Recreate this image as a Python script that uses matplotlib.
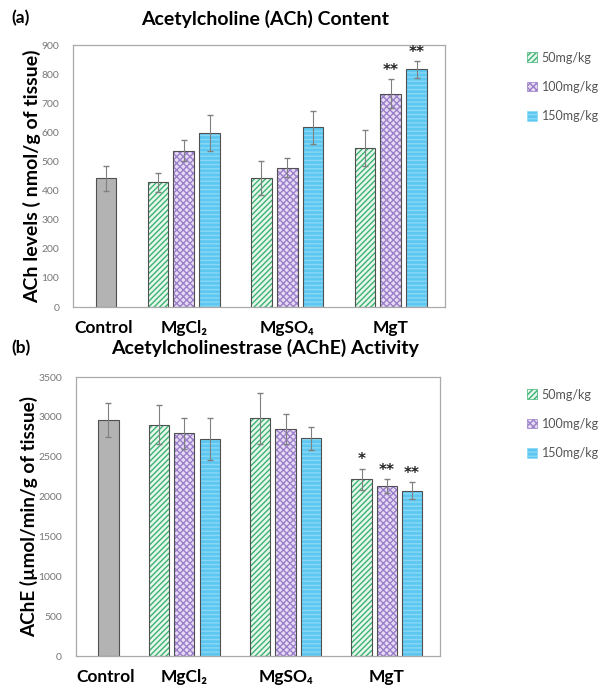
import numpy as np
import matplotlib
matplotlib.use("Agg")
import matplotlib.pyplot as plt
from matplotlib.patches import Patch

plt.rcParams['font.family'] = ['Lato', 'DejaVu Sans']

# data
groups = ["Control", "MgCl₂", "MgSO₄", "MgT"]
doses = ["50mg/kg", "100mg/kg", "150mg/kg"]

ach_control, ach_control_err = 442, 42
ach_vals = [[428, 444, 547],      # 50mg/kg  (MgCl2, MgSO4, MgT)
            [537, 479, 733],      # 100mg/kg
            [597, 617, 816]]      # 150mg/kg
ach_errs = [[33, 58, 61],
            [37, 34, 50],
            [61, 57, 29]]
ach_stars = [["", "", ""], ["", "", "**"], ["", "", "**"]]

ache_control, ache_control_err = 2958, 215
ache_vals = [[2902, 2982, 2217],
             [2794, 2848, 2133],
             [2723, 2731, 2074]]
ache_errs = [[245, 320, 130],
             [195, 190, 85],
             [267, 146, 105]]
ache_stars = [["", "", "*"], ["", "", "**"], ["", "", "**"]]

# styling per dose: face, hatch colour, hatch
styles = [("#e8f7ee", "#3cb371", "//////"),
          ("#e6dbf5", "#9b7fc9", "xxxxx"),
          ("#5cc8f2", "#8ad8f5", "----")]
edge = "#505050"
err_col = "#808080"


def draw_panel(ax, ctrl, ctrl_err, vals, errs, stars, ymax, ystep, star_off, leg_y):
    ax.bar(0, ctrl, width=0.8, color="#b3b3b3", edgecolor=edge, linewidth=0.8, zorder=2)
    ax.errorbar(0, ctrl, yerr=ctrl_err, fmt="none", ecolor=err_col, elinewidth=0.8, capsize=2, zorder=3)
    for d in range(3):
        xs = np.array([2, 6, 10]) + d
        face, hcol, hatch = styles[d]
        ax.bar(xs, vals[d], width=0.8, color=face, edgecolor=hcol, hatch=hatch, linewidth=0, zorder=2)
        ax.bar(xs, vals[d], width=0.8, color="none", edgecolor=edge, linewidth=0.8, zorder=2)
        ax.errorbar(xs, vals[d], yerr=errs[d], fmt="none", ecolor=err_col, elinewidth=0.8, capsize=2, zorder=3)
        for x, v, e, s in zip(xs, vals[d], errs[d], stars[d]):
            if s:
                ax.text(x, v + e + star_off, s, ha="center", va="bottom", family="DejaVu Sans",
                        fontsize=11, fontweight="bold", color="#222222")
    ax.set_xlim(-1.28, 13.1)
    ax.set_ylim(0, ymax)
    ax.set_yticks(np.arange(0, ymax + 1, ystep))
    ax.set_xticks([-0.1, 3, 7, 11])
    ax.set_xticklabels(groups, fontsize=12.5, fontweight="bold")
    ax.tick_params(axis="x", length=0, pad=9)
    ax.tick_params(axis="y", length=0, labelsize=7.5, labelcolor="#777777", pad=10)
    for sp in ax.spines.values():
        sp.set_color("#aaaaaa")
        sp.set_linewidth(0.9)
    handles = [Patch(facecolor=styles[d][0], edgecolor=styles[d][1], hatch=styles[d][2], linewidth=0.5)
               for d in range(3)]
    ax.legend(handles, doses, loc="upper left", bbox_to_anchor=(0.855, leg_y),
              bbox_transform=fig.transFigure, frameon=False,
              fontsize=9, labelcolor="#555555", handlelength=0.8, handleheight=0.8,
              handletextpad=0.4, labelspacing=1.38, borderaxespad=0)


fig = plt.figure(figsize=(6.1, 6.85), dpi=100)
ax1 = fig.add_axes([0.1197, 0.5518, 0.610, 0.3825])
ax2 = fig.add_axes([0.1246, 0.0423, 0.5967, 0.4073])

draw_panel(ax1, ach_control, ach_control_err, ach_vals, ach_errs, ach_stars, 900, 100, 5, 0.932)
draw_panel(ax2, ache_control, ache_control_err, ache_vals, ache_errs, ache_stars, 3500, 500, 20, 0.44)

ax1.set_ylabel("ACh levels ( nmol/g of tissue)", fontsize=14, fontweight="bold", labelpad=0)
ax2.set_ylabel("AChE (µmol/min/g of tissue)", fontsize=13.6, fontweight="bold", labelpad=0)

fig.text(0.435, 0.973, "Acetylcholine (ACh) Content", ha="center", va="center",
         fontsize=14, fontweight="bold")
fig.text(0.435, 0.492, "Acetylcholinestrase (AChE) Activity", ha="center", va="center",
         fontsize=14, fontweight="bold")
fig.text(0.018, 0.973, "(a)", ha="left", va="center", fontsize=12.5, fontweight="bold")
fig.text(0.018, 0.492, "(b)", ha="left", va="center", fontsize=12.5, fontweight="bold")

fig.savefig("out.png", dpi=100)
